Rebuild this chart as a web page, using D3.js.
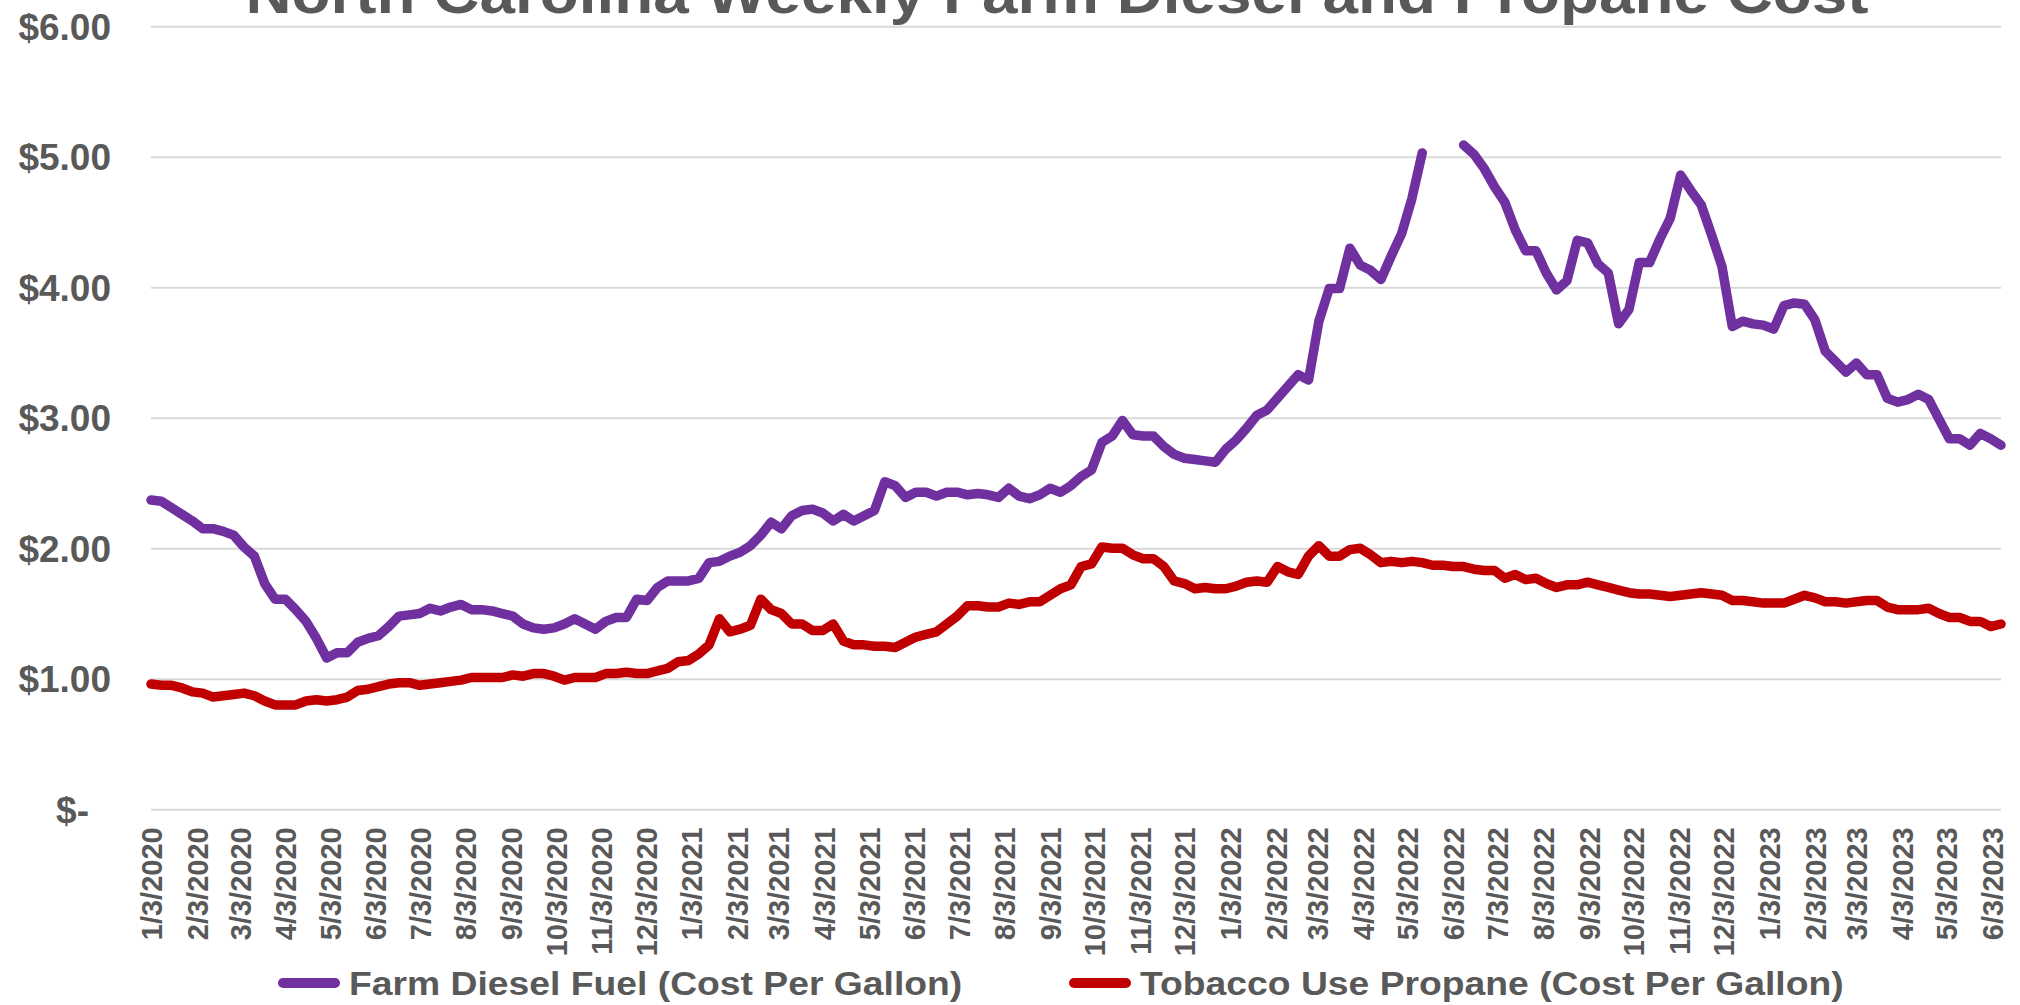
<!DOCTYPE html>
<html>
<head>
<meta charset="utf-8">
<script src="https://cdn.jsdelivr.net/npm/d3@7"></script>
<style>
  body { margin: 0; background: #fff; }
  svg { display: block; font-family: 'Liberation Sans', Arial, sans-serif; font-weight: bold; }
</style>
</head>
<body>
<svg id="chart"></svg>
<script>
// weekly readings, first week ending 1/3/2020
const firstWeek = '1/3/2020';

const diesel = [
  2.37, 2.36, 2.31, 2.26, 2.21, 2.15, 2.15, 2.13, 2.10, 2.01,
  1.94, 1.73, 1.61, 1.61, 1.53, 1.44, 1.31, 1.16, 1.20, 1.20,
  1.28, 1.31, 1.33, 1.40, 1.48, 1.49, 1.50, 1.54, 1.52, 1.55,
  1.57, 1.53, 1.53, 1.52, 1.50, 1.48, 1.42, 1.39, 1.38, 1.39,
  1.42, 1.46, 1.42, 1.38, 1.44, 1.47, 1.47, 1.61, 1.60, 1.70,
  1.75, 1.75, 1.75, 1.77, 1.89, 1.90, 1.94, 1.97, 2.02, 2.10,
  2.20, 2.15, 2.25, 2.29, 2.30, 2.27, 2.21, 2.26, 2.21, 2.25,
  2.29, 2.51, 2.48, 2.39, 2.43, 2.43, 2.40, 2.43, 2.43, 2.41,
  2.42, 2.41, 2.39, 2.46, 2.40, 2.38, 2.41, 2.46, 2.43, 2.48,
  2.55, 2.60, 2.81, 2.86, 2.98, 2.87, 2.86, 2.86, 2.78, 2.72,
  2.69, 2.68, 2.67, 2.66, 2.76, 2.83, 2.92, 3.02, 3.06, 3.15,
  3.24, 3.33, 3.29, 3.74, 3.99, 3.99, 4.30, 4.17, 4.13, 4.06,
  4.24, 4.41, 4.68, 5.03, null, null, null, 5.09, 5.02, 4.91,
  4.77, 4.65, 4.44, 4.28, 4.28, 4.11, 3.98, 4.05, 4.36, 4.34,
  4.18, 4.11, 3.72, 3.83, 4.19, 4.19, 4.37, 4.53, 4.86, 4.74,
  4.63, 4.40, 4.16, 3.70, 3.74, 3.72, 3.71, 3.68, 3.86, 3.88,
  3.87, 3.75, 3.51, 3.43, 3.35, 3.42, 3.33, 3.33, 3.15, 3.12,
  3.14, 3.18, 3.14, 2.99, 2.84, 2.84, 2.79, 2.88, 2.84, 2.79
];

const propane = [
  0.96, 0.95, 0.95, 0.93, 0.90, 0.89, 0.86, 0.87, 0.88, 0.89,
  0.87, 0.83, 0.80, 0.80, 0.80, 0.83, 0.84, 0.83, 0.84, 0.86,
  0.91, 0.92, 0.94, 0.96, 0.97, 0.97, 0.95, 0.96, 0.97, 0.98,
  0.99, 1.01, 1.01, 1.01, 1.01, 1.03, 1.02, 1.04, 1.04, 1.02,
  0.99, 1.01, 1.01, 1.01, 1.04, 1.04, 1.05, 1.04, 1.04, 1.06,
  1.08, 1.13, 1.14, 1.19, 1.26, 1.46, 1.36, 1.38, 1.41, 1.61,
  1.53, 1.50, 1.42, 1.42, 1.37, 1.37, 1.42, 1.29, 1.26, 1.26,
  1.25, 1.25, 1.24, 1.28, 1.32, 1.34, 1.36, 1.42, 1.48, 1.56,
  1.56, 1.55, 1.55, 1.58, 1.57, 1.59, 1.59, 1.64, 1.69, 1.72,
  1.86, 1.88, 2.01, 2.00, 2.00, 1.95, 1.92, 1.92, 1.86, 1.75,
  1.73, 1.69, 1.70, 1.69, 1.69, 1.71, 1.74, 1.75, 1.74, 1.86,
  1.82, 1.80, 1.94, 2.02, 1.94, 1.94, 1.99, 2.00, 1.95, 1.89,
  1.90, 1.89, 1.90, 1.89, 1.87, 1.87, 1.86, 1.86, 1.84, 1.83,
  1.83, 1.77, 1.80, 1.76, 1.77, 1.73, 1.70, 1.72, 1.72, 1.74,
  1.72, 1.70, 1.68, 1.66, 1.65, 1.65, 1.64, 1.63, 1.64, 1.65,
  1.66, 1.65, 1.64, 1.60, 1.60, 1.59, 1.58, 1.58, 1.58, 1.61,
  1.64, 1.62, 1.59, 1.59, 1.58, 1.59, 1.60, 1.60, 1.55, 1.53,
  1.53, 1.53, 1.54, 1.50, 1.47, 1.47, 1.44, 1.44, 1.40, 1.42
];

const tickLabels = [
  '1/3/2020', '2/3/2020', '3/3/2020', '4/3/2020', '5/3/2020', '6/3/2020',
  '7/3/2020', '8/3/2020', '9/3/2020', '10/3/2020', '11/3/2020', '12/3/2020',
  '1/3/2021', '2/3/2021', '3/3/2021', '4/3/2021', '5/3/2021', '6/3/2021',
  '7/3/2021', '8/3/2021', '9/3/2021', '10/3/2021', '11/3/2021', '12/3/2021',
  '1/3/2022', '2/3/2022', '3/3/2022', '4/3/2022', '5/3/2022', '6/3/2022',
  '7/3/2022', '8/3/2022', '9/3/2022', '10/3/2022', '11/3/2022', '12/3/2022',
  '1/3/2023', '2/3/2023', '3/3/2023', '4/3/2023', '5/3/2023', '6/3/2023'
];

const yTicks = [0, 1, 2, 3, 4, 5, 6];

const seriesNames = ['Farm Diesel Fuel (Cost Per Gallon)', 'Tobacco Use Propane (Cost Per Gallon)'];
const seriesColors = ['#7030A0', '#C00000'];

const width = 2020;
const height = 1005;
const plotLeft = 151, plotRight = 2001, plotTop = 26.3, plotBottom = 809.3;
const grey = '#595959';
const stretch = 1.12;

const parse = d3.timeParse('%m/%d/%Y');
const start = parse(firstWeek);
const weeks = diesel.map((d, i) => d3.timeDay.offset(start, i * 7));
const tickDates = tickLabels.map(parse);

let svg = d3.select('#chart')
            .attr('width', width)
            .attr('height', height);

svg.append('rect')
    .attr('width', width)
    .attr('height', height)
    .attr('fill', '#fff');

let xScale = d3.scaleTime()
                .domain([weeks[0], weeks[weeks.length - 1]])
                .range([plotLeft, plotRight]);

let yScale = d3.scaleLinear()
                .domain([0, 6])
                .range([plotBottom, plotTop]);

// gridlines
let grid = svg.append('g')
    .attr('transform', `translate(${plotLeft},0)`)
    .call(d3.axisLeft(yScale).tickValues(yTicks).tickSize(-(plotRight - plotLeft)).tickFormat(''));
grid.select('.domain').remove();
grid.selectAll('line').attr('stroke', '#D9D9D9').attr('stroke-width', 2);

// y labels
svg.selectAll('.ylabel')
    .data(yTicks)
    .enter()
    .append('text')
    .classed('ylabel', true)
    .attr('x', d => d === 0 ? 89 : 111)
    .attr('y', d => yScale(d))
    .attr('dy', '0.36em')
    .attr('text-anchor', 'end')
    .attr('fill', grey)
    .style('font-size', '37px')
    .text(d => d === 0 ? '$-' : d3.format('$.2f')(d));

// x labels
let xAxis = d3.axisBottom(xScale)
              .tickValues(tickDates)
              .tickSize(0)
              .tickFormat(d3.timeFormat('%-m/%-d/%Y'));

let xg = svg.append('g')
    .attr('transform', `translate(0,${plotBottom})`)
    .call(xAxis);
xg.select('.domain').remove();
xg.selectAll('text')
    .attr('fill', grey)
    .style('font-size', '29px')
    .attr('text-anchor', 'end')
    .attr('y', 0)
    .attr('x', 0)
    .attr('dy', '0.36em')
    .attr('transform', 'translate(0,18) rotate(-90)');

// lines
let line = d3.line()
    .defined(d => d.v != null)
    .x(d => xScale(d.date))
    .y(d => yScale(d.v));

[diesel, propane].forEach((vals, k) => {
  svg.append('path')
      .datum(vals.map((v, i) => ({date: weeks[i], v: v})))
      .attr('d', line)
      .attr('fill', 'none')
      .attr('stroke', seriesColors[k])
      .attr('stroke-width', 9.5)
      .attr('stroke-linejoin', 'round')
      .attr('stroke-linecap', 'round');
});

// title (the top of it runs off the picture, as in the original)
svg.append('text')
    .attr('transform', `translate(1057,13) scale(${stretch},1)`)
    .attr('text-anchor', 'middle')
    .attr('fill', grey)
    .style('font-size', '57px')
    .text('North Carolina Weekly Farm Diesel and Propane Cost');

// legend
const legendX = [283, 1074];
let legend = svg.selectAll('.legend')
    .data(seriesNames)
    .enter()
    .append('g')
    .classed('legend', true)
    .attr('transform', (d, i) => `translate(${legendX[i]},983)`);

legend.append('line')
    .attr('x1', 0)
    .attr('x2', 52)
    .attr('stroke', (d, i) => seriesColors[i])
    .attr('stroke-width', 10)
    .attr('stroke-linecap', 'round');

legend.append('text')
    .attr('transform', 'translate(66,0) scale(1.13,1)')
    .attr('dy', '0.36em')
    .attr('fill', grey)
    .style('font-size', '33px')
    .text(d => d);
</script>
</body>
</html>
